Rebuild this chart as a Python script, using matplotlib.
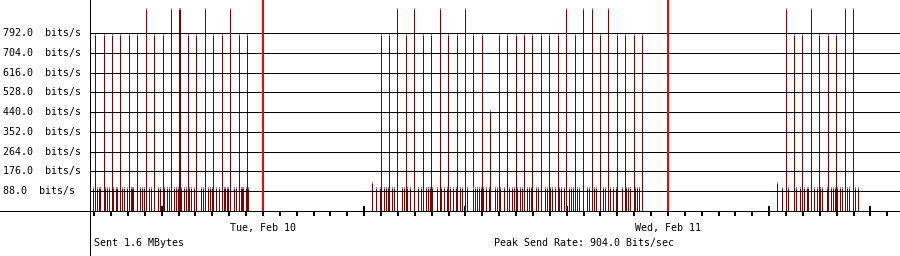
import numpy as np
import matplotlib
matplotlib.use("Agg")
import matplotlib.pyplot as plt
from matplotlib.lines import Line2D

W, H = 900, 256
DAY = 1440  # minutes

# ---- data (bits/s), times per day ----
mon_big_t = ["14:05", "14:35", "15:05", "15:35", "16:05", "16:35", "17:05", "17:35",
             "18:05", "18:35", "19:05", "19:35", "20:05", "20:35", "21:05", "21:35",
             "22:05", "22:35", "23:05"]
mon_big_v = [788, 788, 788, 788, 788, 788, 904, 788, 788, 904, 904, 788, 788, 904,
             788, 788, 904, 788, 788]

tue_big_t = ["07:00", "07:30", "08:00", "08:30", "09:00", "09:30", "10:00", "10:30",
             "11:00", "11:30", "12:00", "12:30", "13:00", "13:30", "14:00", "14:30",
             "15:00", "15:30", "16:00", "16:30", "17:00", "17:30", "18:00", "18:30",
             "19:00", "19:30", "20:00", "20:30", "21:00", "21:30", "22:00", "22:30"]
tue_big_v = [788, 788, 904, 788, 904, 788, 788, 904, 788, 788, 904, 788, 788, 450,
             788, 788, 788, 788, 788, 788, 788, 788, 904, 788, 904, 904, 788, 904,
             788, 788, 788, 788]

wed_big_t = ["07:00", "07:30", "08:00", "08:30", "09:00", "09:30", "10:00", "10:30", "11:00"]
wed_big_v = [904, 788, 788, 904, 788, 788, 788, 904, 904]

mon_small_t = ["13:48", "13:56", "14:11", "14:18", "14:24", "14:39", "14:46", "14:56",
               "15:10", "15:20", "15:24", "15:41", "15:48", "15:57", "16:11", "16:17",
               "16:21", "16:43", "16:50", "16:59", "17:18", "17:25", "17:47", "17:54",
               "18:10", "18:20", "18:27", "18:46", "18:51", "18:58", "19:12", "19:22",
               "19:27", "19:40", "19:47", "19:58", "20:22", "20:29", "20:46", "20:53",
               "21:00", "21:16", "21:24", "21:45", "21:55", "21:59", "22:18", "22:25",
               "22:42", "22:49", "23:03", "23:10"]
tue_small_t = ["06:43", "06:57", "07:11", "07:18", "07:26", "07:40", "07:47", "08:15",
               "08:22", "08:35", "08:44", "09:12", "09:25", "09:41", "09:48", "09:54",
               "10:04", "10:19", "10:33", "10:45", "10:57", "11:08", "11:18", "11:27",
               "11:42", "11:49", "12:08", "12:27", "12:36", "12:43", "12:51", "12:58",
               "13:05", "13:16", "13:24", "13:47", "13:55", "14:05", "14:18", "14:37",
               "14:46", "14:54", "15:06", "15:15", "15:22", "15:39", "15:46", "15:53",
               "16:12", "16:21", "16:45", "16:52", "17:03", "17:09", "17:19", "17:34",
               "17:42", "17:53", "18:10", "18:18", "18:25", "18:39", "18:46", "19:14",
               "19:22", "19:40", "19:47", "20:11", "20:18", "20:37", "20:47", "20:56",
               "21:17", "21:33", "21:41", "21:48", "22:05", "22:10", "22:19"]
wed_small_t = ["06:48", "07:09", "07:38", "07:52", "08:06", "08:15", "08:20", "08:42",
               "08:51", "09:04", "09:10", "09:26", "09:41", "09:48", "09:57", "10:04",
               "10:12", "10:21", "10:40", "10:47", "11:08", "11:16"]
small_level = 106

wake_t = [("Tue", "06:29"), ("Wed", "06:29")]
wake_v = [131, 131]

y_grid = [88.0, 176.0, 264.0, 352.0, 440.0, 528.0, 616.0, 704.0, 792.0]
day_labels = ["Tue, Feb 10", "Wed, Feb 11"]
day_index = {"Mon": 0, "Tue": 1, "Wed": 2}


def mins(day, hhmm):
    h, m = hhmm.split(":")
    return day_index[day] * DAY + int(h) * 60 + int(m)


t_big, v_big, t_small = [], [], []
for day, tt, vv in [("Mon", mon_big_t, mon_big_v), ("Tue", tue_big_t, tue_big_v),
                    ("Wed", wed_big_t, wed_big_v)]:
    t_big += [mins(day, t) for t in tt]
    v_big += vv
for day, tt in [("Mon", mon_small_t), ("Tue", tue_small_t), ("Wed", wed_small_t)]:
    t_small += [mins(day, t) for t in tt]

t_all = np.array(t_big + t_small + [mins(d, t) for d, t in wake_t])
v_all = np.array(v_big + [small_level] * len(t_small) + wake_v, dtype=float)

x0 = mins("Mon", "13:45")
x1 = x0 + 2 * DAY
col = (x1 - x0) / 810  # minutes per pixel column

mono = {"family": "DejaVu Sans Mono", "size": 7.2}
px = 0.72  # one pixel line, in points

fig = plt.figure(figsize=(W / 100, H / 100), dpi=100)
ax = fig.add_axes([90 / W, (H - 211) / H, 810 / W, 211 / H])
ax.set_xlim(x0, x1)
ax.set_ylim(0, 939)
for s in ax.spines.values():
    s.set_visible(False)
ax.set_yticks([])

# bars: one-pixel dark red stems with a light blue cap
ax.bar(t_all, v_all, width=col, color="#800000", linewidth=0, antialiased=False, zorder=2)
ax.bar(t_all, 9, bottom=v_all - 9, width=col, color="#7f7fff", linewidth=0,
       antialiased=False, zorder=2.5)

# horizontal grid
ax.hlines(y_grid, x0, x1, color="black", lw=px, antialiased=False, zorder=3)

# midnight markers (2 px wide)
midnights = [mins("Tue", "00:00"), mins("Wed", "00:00")]
for m in midnights:
    ax.axvspan(m - col, m + col, color="#ff0000", lw=0, antialiased=False, zorder=4)

# hour ticks, taller ones every 6 hours
ax.set_xticks(np.arange(mins("Mon", "18:00"), x1, 360))
ax.set_xticks(np.arange(mins("Mon", "14:00"), x1, 60), minor=True)
ax.set_xticklabels([])
ax.tick_params(axis="x", which="major", direction="inout", length=7.9, width=1.44, color="black")
ax.tick_params(axis="x", which="minor", direction="out", length=3.6, width=1.44, color="black")

for m, lab in zip(midnights, day_labels):
    ax.text(m, -17 / 211, lab, transform=ax.get_xaxis_transform(),
            ha="center", va="center", **mono)

# baseline and left axis line (span beyond the plot area)
fig.add_artist(Line2D([0, 1], [(H - 211) / H] * 2, color="black", lw=px, antialiased=False))
fig.add_artist(Line2D([90 / W] * 2, [0, 1], color="black", lw=px, antialiased=False))

for v in y_grid:
    yp = 211 - v * 211 / 939
    fig.text(3 / W, 1 - yp / H, f"{v:.1f}  bits/s", ha="left", va="center", **mono)

fig.text(94 / W, 1 - 243 / H, "Sent 1.6 MBytes", ha="left", va="center", **mono)
fig.text(494 / W, 1 - 243 / H, "Peak Send Rate: 904.0 Bits/sec", ha="left", va="center", **mono)

fig.savefig("out.png", dpi=100)
